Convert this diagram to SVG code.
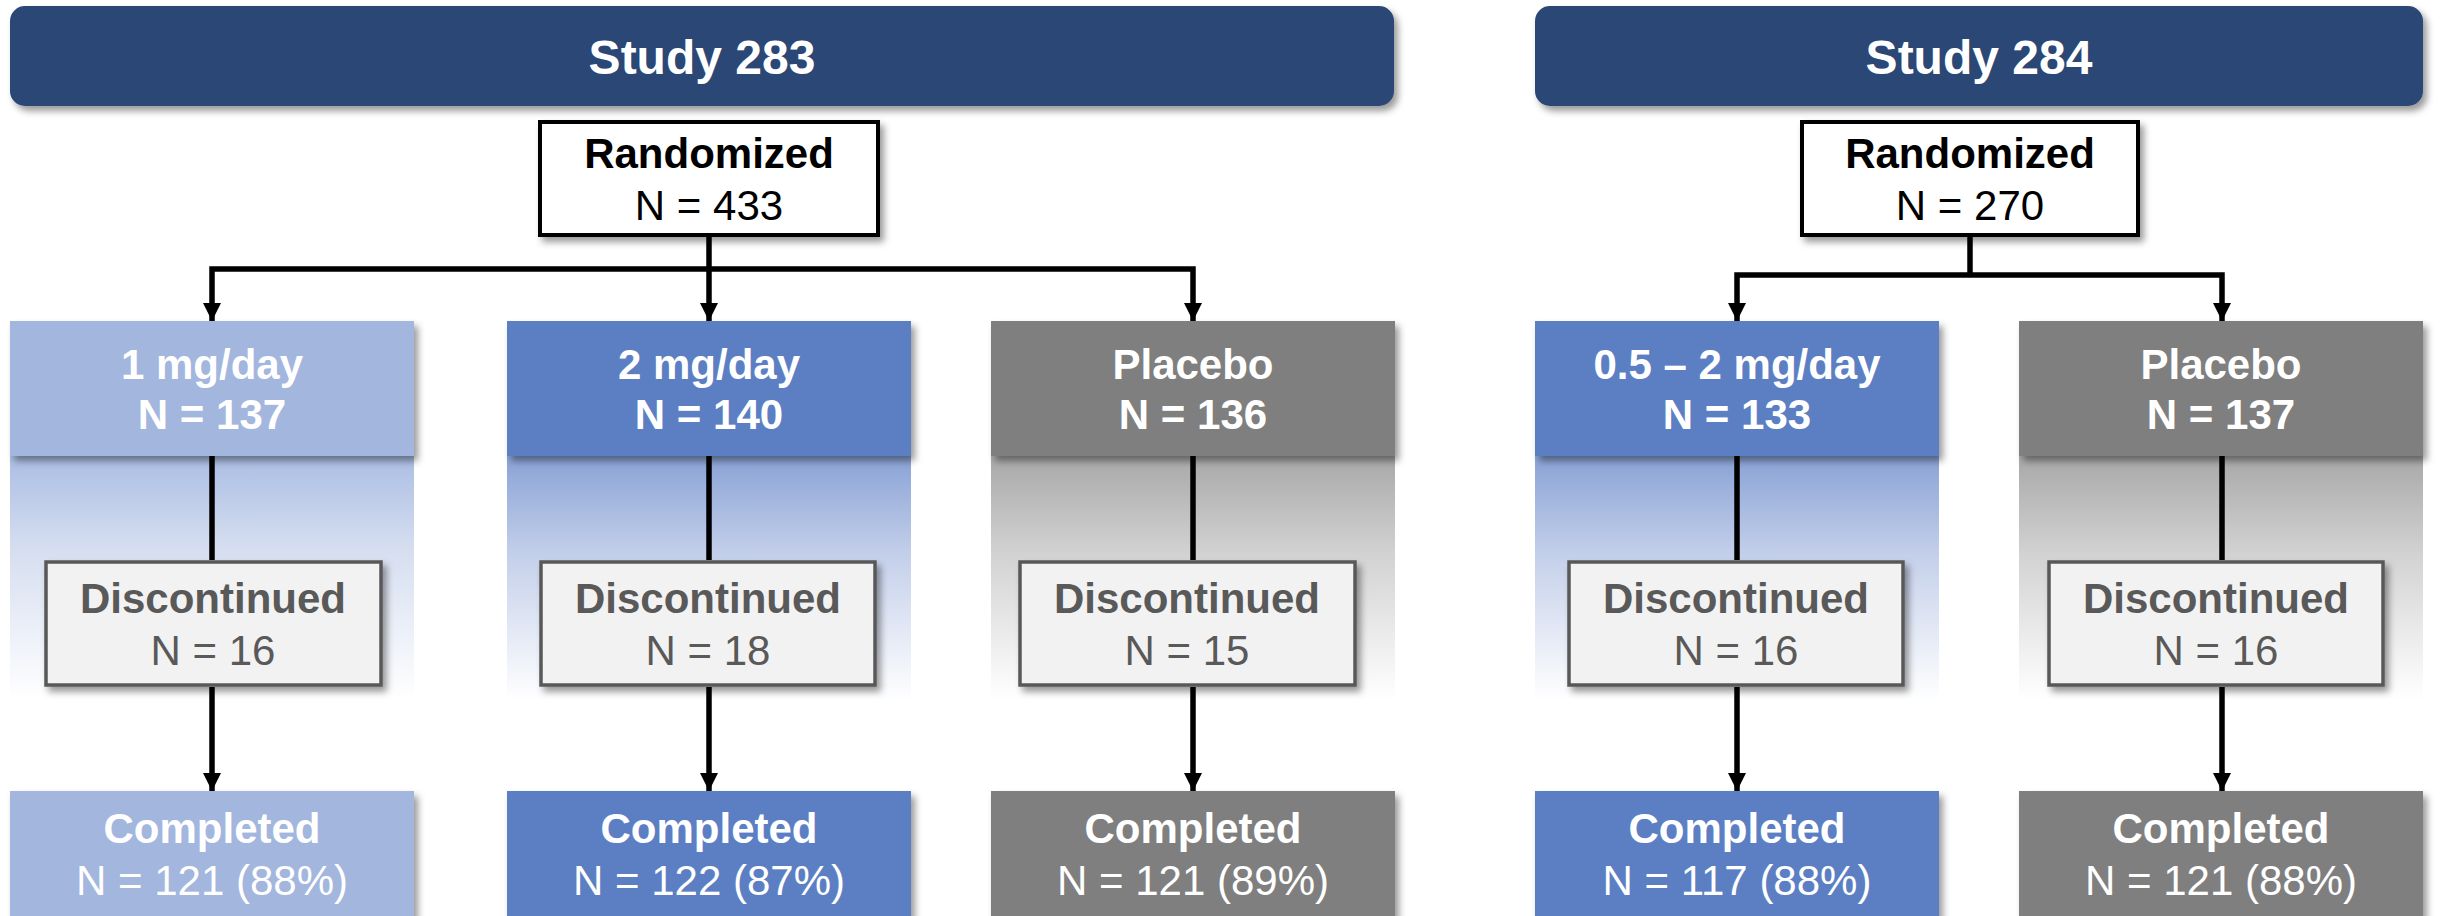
<svg xmlns="http://www.w3.org/2000/svg" width="2440" height="916" viewBox="0 0 2440 916">
<defs>
<filter id="sh" x="-10%" y="-20%" width="125%" height="150%">
<feDropShadow dx="4" dy="5" stdDeviation="3.5" flood-color="#000" flood-opacity="0.4"/>
</filter>
<linearGradient id="gL" x1="0" y1="0" x2="0" y2="1">
<stop offset="0" stop-color="#aabde3"/>
<stop offset="0.35" stop-color="#d3dcef"/>
<stop offset="1" stop-color="#ffffff"/>
</linearGradient>
<linearGradient id="gB" x1="0" y1="0" x2="0" y2="1">
<stop offset="0" stop-color="#89a2d5"/>
<stop offset="0.4" stop-color="#c3cfea"/>
<stop offset="1" stop-color="#ffffff"/>
</linearGradient>
<linearGradient id="gG" x1="0" y1="0" x2="0" y2="1">
<stop offset="0" stop-color="#a8a8a8"/>
<stop offset="0.4" stop-color="#d2d2d2"/>
<stop offset="1" stop-color="#ffffff"/>
</linearGradient>
<marker id="ah" markerUnits="userSpaceOnUse" markerWidth="18" markerHeight="18" refX="18" refY="9" orient="auto-start-reverse" viewBox="0 0 18 18">
<path d="M0,0 L18,9 L0,18 z" fill="#000"/>
</marker>
<style>
text{font-family:"Liberation Sans",Arial,sans-serif;text-anchor:middle;font-size:42px}
.hdr{font-size:48px;font-weight:bold;fill:#fff}
.b{font-weight:bold}
.w{fill:#fff}
.k{fill:#000}
.g{fill:#595959}
.hd{fill:#2c4675}
.lt{fill:#a3b6de}
.md{fill:#5b7fc4}
.gr{fill:#7f7f7f}
.rnd{fill:#fff;stroke:#000;stroke-width:4}
.dis{fill:#f2f2f2;stroke:#595959;stroke-width:3.5}
.ln{fill:none;stroke:#000;stroke-width:5.5;stroke-linejoin:miter}
</style>
</defs>
<rect width="2440" height="916" fill="#fff"/>

<g id="columns">
<rect x="10" y="456" width="404" height="244" fill="url(#gL)"/>
<rect x="507" y="456" width="404" height="244" fill="url(#gB)"/>
<rect x="991" y="456" width="404" height="244" fill="url(#gG)"/>
<rect x="1535" y="456" width="404" height="244" fill="url(#gB)"/>
<rect x="2019" y="456" width="404" height="244" fill="url(#gG)"/>
</g>

<g id="header-283">
<rect x="10" y="6" width="1384" height="100" rx="15" class="hd" filter="url(#sh)"/>
<text x="702" y="74" class="hdr">Study 283</text>
</g>
<g id="header-284">
<rect x="1535" y="6" width="888" height="100" rx="15" class="hd" filter="url(#sh)"/>
<text x="1979" y="74" class="hdr">Study 284</text>
</g>

<g id="randomized-283">
<rect x="540" y="122" width="338" height="113" class="rnd" filter="url(#sh)"/>
<text x="709" y="168" class="b k">Randomized</text>
<text x="709" y="220" class="k">N = 433</text>
</g>
<g id="randomized-284">
<rect x="1802" y="122" width="336" height="113" class="rnd" filter="url(#sh)"/>
<text x="1970" y="168" class="b k">Randomized</text>
<text x="1970" y="220" class="k">N = 270</text>
</g>

<g id="arm-283-1mg">
<rect x="10" y="321" width="404" height="135" class="lt" filter="url(#sh)"/>
<text x="212" y="379" class="b w">1 mg/day</text>
<text x="212" y="429" class="b w">N = 137</text>
</g>
<g id="arm-283-2mg">
<rect x="507" y="321" width="404" height="135" class="md" filter="url(#sh)"/>
<text x="709" y="379" class="b w">2 mg/day</text>
<text x="709" y="429" class="b w">N = 140</text>
</g>
<g id="arm-283-placebo">
<rect x="991" y="321" width="404" height="135" class="gr" filter="url(#sh)"/>
<text x="1193" y="379" class="b w">Placebo</text>
<text x="1193" y="429" class="b w">N = 136</text>
</g>
<g id="arm-284-dose">
<rect x="1535" y="321" width="404" height="135" class="md" filter="url(#sh)"/>
<text x="1737" y="379" class="b w">0.5 – 2 mg/day</text>
<text x="1737" y="429" class="b w">N = 133</text>
</g>
<g id="arm-284-placebo">
<rect x="2019" y="321" width="404" height="135" class="gr" filter="url(#sh)"/>
<text x="2221" y="379" class="b w">Placebo</text>
<text x="2221" y="429" class="b w">N = 137</text>
</g>

<g id="connectors">
<path class="ln" d="M709,237 V321" marker-end="url(#ah)"/>
<path class="ln" d="M212,321 V269 H1193 V321" marker-start="url(#ah)" marker-end="url(#ah)"/>
<path class="ln" d="M1970,237 V275"/>
<path class="ln" d="M1737,321 V275 H2222 V321" marker-start="url(#ah)" marker-end="url(#ah)"/>
<path class="ln" d="M212,456 V560"/>
<path class="ln" d="M709,456 V560"/>
<path class="ln" d="M1193,456 V560"/>
<path class="ln" d="M1737,456 V560"/>
<path class="ln" d="M2222,456 V560"/>
<path class="ln" d="M212,687 V791" marker-end="url(#ah)"/>
<path class="ln" d="M709,687 V791" marker-end="url(#ah)"/>
<path class="ln" d="M1193,687 V791" marker-end="url(#ah)"/>
<path class="ln" d="M1737,687 V791" marker-end="url(#ah)"/>
<path class="ln" d="M2222,687 V791" marker-end="url(#ah)"/>
</g>

<g id="disc-283-1mg">
<rect x="46" y="562" width="335" height="123" class="dis" filter="url(#sh)"/>
<text x="213" y="613" class="b g">Discontinued</text>
<text x="213" y="665" class="g">N = 16</text>
</g>
<g id="disc-283-2mg">
<rect x="541" y="562" width="334" height="123" class="dis" filter="url(#sh)"/>
<text x="708" y="613" class="b g">Discontinued</text>
<text x="708" y="665" class="g">N = 18</text>
</g>
<g id="disc-283-placebo">
<rect x="1020" y="562" width="335" height="123" class="dis" filter="url(#sh)"/>
<text x="1187" y="613" class="b g">Discontinued</text>
<text x="1187" y="665" class="g">N = 15</text>
</g>
<g id="disc-284-dose">
<rect x="1569" y="562" width="334" height="123" class="dis" filter="url(#sh)"/>
<text x="1736" y="613" class="b g">Discontinued</text>
<text x="1736" y="665" class="g">N = 16</text>
</g>
<g id="disc-284-placebo">
<rect x="2049" y="562" width="334" height="123" class="dis" filter="url(#sh)"/>
<text x="2216" y="613" class="b g">Discontinued</text>
<text x="2216" y="665" class="g">N = 16</text>
</g>

<g id="comp-283-1mg">
<rect x="10" y="791" width="404" height="140" class="lt" filter="url(#sh)"/>
<text x="212" y="843" class="b w">Completed</text>
<text x="212" y="895" class="w">N = 121 (88%)</text>
</g>
<g id="comp-283-2mg">
<rect x="507" y="791" width="404" height="140" class="md" filter="url(#sh)"/>
<text x="709" y="843" class="b w">Completed</text>
<text x="709" y="895" class="w">N = 122 (87%)</text>
</g>
<g id="comp-283-placebo">
<rect x="991" y="791" width="404" height="140" class="gr" filter="url(#sh)"/>
<text x="1193" y="843" class="b w">Completed</text>
<text x="1193" y="895" class="w">N = 121 (89%)</text>
</g>
<g id="comp-284-dose">
<rect x="1535" y="791" width="404" height="140" class="md" filter="url(#sh)"/>
<text x="1737" y="843" class="b w">Completed</text>
<text x="1737" y="895" class="w">N = 117 (88%)</text>
</g>
<g id="comp-284-placebo">
<rect x="2019" y="791" width="404" height="140" class="gr" filter="url(#sh)"/>
<text x="2221" y="843" class="b w">Completed</text>
<text x="2221" y="895" class="w">N = 121 (88%)</text>
</g>
</svg>
